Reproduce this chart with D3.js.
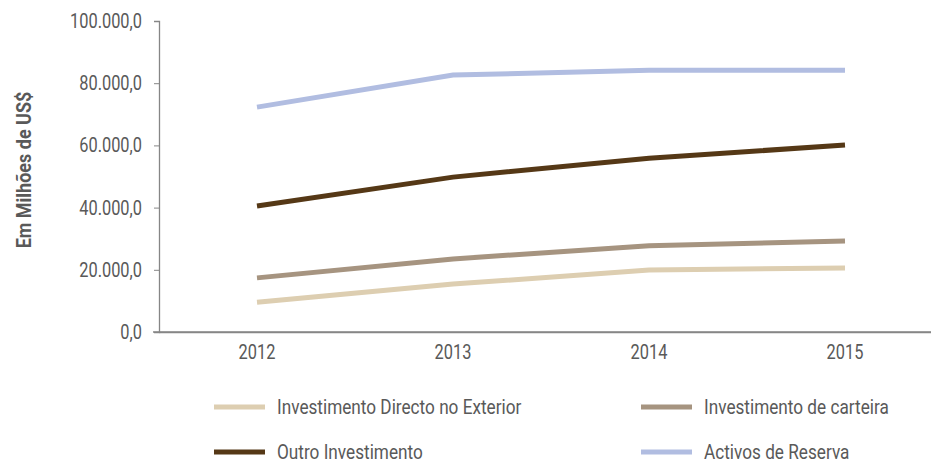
<!DOCTYPE html>
<html>
<head>
<meta charset="utf-8">
<script src="https://cdn.jsdelivr.net/npm/d3@7"></script>
<style>
  body { margin: 0; background: #fff; }
  svg text { font-family: "Roboto", "Liberation Sans Narrow", sans-serif; fill: #595959; }
</style>
</head>
<body>
<div id="chart"></div>
<script>
// anos
var years = ['2012', '2013', '2014', '2015']
// series (milhões de US$)
var ideValues = [9600, 15400, 19900, 20600]
var carteiraValues = [17400, 23500, 27700, 29300]
var outroValues = [40500, 49800, 55900, 60100]
var reservaValues = [72300, 82600, 84200, 84200]
var yTicks = [0, 20000, 40000, 60000, 80000, 100000]

var series = [
    { name: 'Investimento Directo no Exterior', values: ideValues, color: '#ddceb1' },
    { name: 'Investimento de carteira', values: carteiraValues, color: '#a69480' },
    { name: 'Outro Investimento', values: outroValues, color: '#553816' },
    { name: 'Activos de Reserva', values: reservaValues, color: '#b1bde1' },
]

var width = 931,
    height = 467,
    axisColor = '#868686'

var svg = d3.select('#chart').append('svg').attr('width', width).attr('height', height)

var x = d3.scaleBand().domain(years).range([159, 943])
var y = d3.scaleLinear().domain([0, 100000]).range([332, 21])

// fonte estreita: escala horizontal
function condense(sel, k) {
    sel.each(function () {
        var t = d3.select(this),
            tx = +t.attr('x') || 0
        t.attr('x', tx / k).attr('transform', 'scale(' + k + ',1)')
    })
}

// formato 100.000,0
var fmt = function (d) {
    return d3.format(',.1f')(d).replace(/,/g, '#').replace('.', ',').replace(/#/g, '.')
}

// eixo y
var yAxis = svg.append('g')
    .attr('transform', 'translate(159,0)')
    .call(d3.axisLeft(y).tickValues(yTicks).tickSize(5).tickPadding(12).tickFormat(fmt))
yAxis.selectAll('text').style('font-size', '20px').call(condense, 0.82)

// eixo x
var xAxis = svg.append('g')
    .attr('transform', 'translate(0,332)')
    .call(d3.axisBottom(x).tickSize(0).tickPadding(13))
xAxis.selectAll('text').style('font-size', '20px').attr('dy', '0.71em').call(condense, 0.82)

svg.selectAll('.domain').attr('stroke', axisColor).attr('stroke-width', 1.3)
svg.selectAll('.tick line').attr('stroke', axisColor)

// linha do eixo x prolongada a esquerda
svg.append('line')
    .attr('x1', 153).attr('x2', width)
    .attr('y1', y(0)).attr('y2', y(0))
    .attr('stroke', axisColor).attr('stroke-width', 1.3)

// titulo eixo y
svg.append('text')
    .attr('transform', 'translate(31,170) rotate(-90) scale(0.9,1)')
    .attr('text-anchor', 'middle')
    .style('font-size', '20px')
    .style('font-weight', 'bold')
    .text('Em Milhões de US$')

// linhas
var line = d3.line()
    .x(function (d, i) { return x(years[i]) + x.bandwidth() / 2 })
    .y(function (d) { return y(d) })

svg.selectAll('.serie')
    .data(series)
    .enter()
    .append('path')
    .attr('class', 'serie')
    .attr('d', function (d) { return line(d.values) })
    .attr('fill', 'none')
    .attr('stroke', function (d) { return d.color })
    .attr('stroke-width', 5)

// legenda
var legend = svg.selectAll('.legend')
    .data(series)
    .enter()
    .append('g')
    .attr('class', 'legend')
    .attr('transform', function (d, i) {
        return 'translate(' + (i % 2 === 0 ? 214 : 641) + ',' + (i < 2 ? 407 : 452) + ')'
    })
legend.append('line')
    .attr('x1', 0).attr('x2', 51)
    .attr('stroke', function (d) { return d.color })
    .attr('stroke-width', 5)
legend.append('text')
    .attr('x', 63)
    .attr('dy', '0.35em')
    .style('font-size', '20px')
    .text(function (d) { return d.name })
    .call(condense, 0.86)
</script>
</body>
</html>
